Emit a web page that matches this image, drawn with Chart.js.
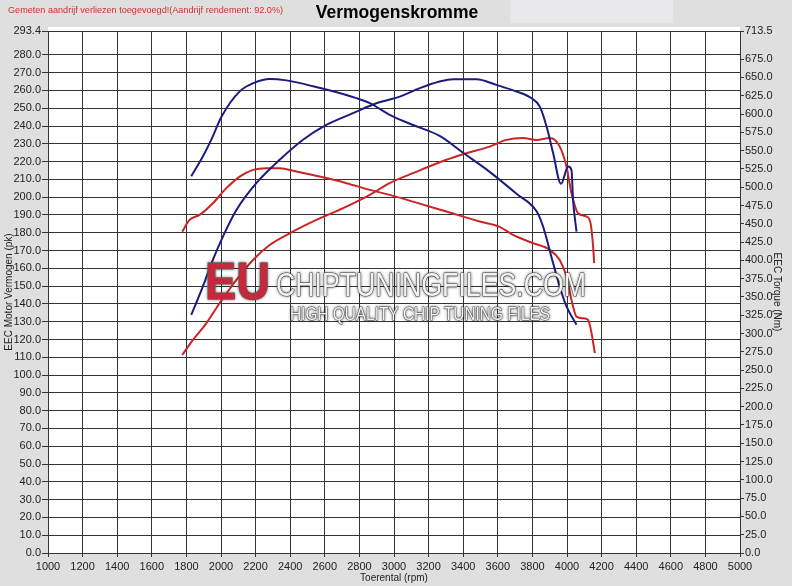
<!DOCTYPE html>
<html>
<head>
<meta charset="utf-8">
<script src="https://cdn.jsdelivr.net/npm/chart.js@4"></script>
<style>
  html, body { margin: 0; padding: 0; background: #dfdfdf; }
  #chart { display: block; }
</style>
</head>
<body>
<canvas id="chart" width="792" height="586"></canvas>
<script>
// values (rpm -> pk / Nm)
const tunedPowerRpm = [1828, 1895, 1953, 2011, 2089, 2204, 2339, 2474, 2609, 2763, 2898, 3033, 3149, 3264, 3341, 3477, 3592, 3708, 3795, 3843, 3882, 3920, 3965, 4007, 4026, 4035, 4055];
const tunedPower = [133.8, 149.7, 164.7, 177.8, 192.8, 207.9, 221.0, 232.3, 240.6, 247.2, 252.8, 256.5, 261.3, 265.0, 266.3, 266.3, 263.1, 259.4, 255.6, 250.9, 239.7, 224.7, 207.5, 217.2, 215.3, 198.5, 180.6];

const tunedTorqueRpm = [1828, 1895, 1944, 2002, 2108, 2194, 2281, 2378, 2532, 2725, 2860, 2975, 3110, 3264, 3399, 3553, 3708, 3824, 3862, 3920, 3958, 3997, 4055];
const tunedTorque = [515, 542, 565, 596, 631, 643, 648, 646, 638, 626, 615, 599, 585, 570, 547, 521, 491, 467, 446, 396, 364, 337, 312];

const stockPowerRpm = [1776, 1838, 1915, 1992, 2089, 2185, 2281, 2397, 2551, 2725, 2860, 2975, 3110, 3303, 3419, 3553, 3650, 3746, 3824, 3901, 3958, 3997, 4026, 4064, 4113, 4136, 4151, 4157];
const stockPower = [111.3, 119.8, 129.1, 140.4, 153.5, 164.7, 173.1, 179.7, 187.2, 194.7, 201.3, 207.9, 213.5, 221.0, 224.7, 228.4, 232.2, 233.2, 232.2, 233.2, 228.4, 217.2, 202.2, 191.0, 189.1, 185.4, 172.2, 162.9];

const stockTorqueRpm = [1776, 1818, 1876, 1953, 2031, 2108, 2185, 2262, 2339, 2436, 2570, 2725, 2860, 2975, 3110, 3303, 3496, 3611, 3688, 3804, 3901, 3958, 3997, 4026, 4055, 4093, 4122, 4142, 4161];
const stockTorque = [439.3, 455.3, 462.1, 478.1, 498.7, 514.5, 523.7, 526.0, 526.0, 521.4, 514.5, 505.5, 496.3, 489.5, 480.3, 466.7, 453.0, 445.8, 434.8, 423.5, 414.3, 400.4, 377.8, 345.9, 323.1, 320.9, 318.6, 300.4, 273.1];

const powerTicks = [0, 10, 20, 30, 40, 50, 60, 70, 80, 90, 100, 110, 120, 130, 140, 150, 160, 170, 180, 190, 200, 210, 220, 230, 240, 250, 260, 270, 280, 293.4];
const torqueTicks = [0, 25, 50, 75, 100, 125, 150, 175, 200, 225, 250, 275, 300, 325, 350, 375, 400, 425, 450, 475, 500, 525, 550, 575, 600, 625, 650, 675, 713.5];

const navy = "#1c1c80";
const red = "#cc2424";
const gridColor = "#333333";
const labelFont = { family: "Liberation Sans", size: 11 };
const titleFont = { family: "Liberation Sans", size: 10 };

function pairs(xs, ys) {
  return xs.map((x, i) => ({ x: x, y: ys[i] }));
}

// grey sheet, lighter title box, white plot area
const backdrop = {
  id: "backdrop",
  beforeDraw(chart) {
    const { ctx, chartArea } = chart;
    ctx.save();
    ctx.fillStyle = "#dfdfdf";
    ctx.fillRect(0, 0, chart.width, chart.height);
    ctx.fillStyle = "#e8e8ea";
    ctx.fillRect(510, 0, 163, 23);
    ctx.fillStyle = "#ffffff";
    ctx.fillRect(chartArea.left, chartArea.top - 4, chartArea.right - chartArea.left, chartArea.bottom - chartArea.top + 4);
    ctx.restore();
  }
};

function fitText(ctx, text, x, y, width, font) {
  ctx.font = font;
  const w = ctx.measureText(text).width;
  ctx.save();
  ctx.translate(x, y);
  ctx.scale(width / w, 1);
  ctx.strokeText(text, 0, 0);
  ctx.fillText(text, 0, 0);
  ctx.restore();
}

// header texts and the watermark
const overlay = {
  id: "overlay",
  afterDatasetsDraw(chart) {
    const ctx = chart.ctx;
    ctx.save();
    ctx.textBaseline = "alphabetic";

    // watermark
    ctx.shadowColor = "rgba(0,0,0,0.45)";
    ctx.shadowBlur = 3;
    ctx.lineJoin = "round";
    ctx.fillStyle = "#c8283c";
    ctx.strokeStyle = "#7a7a7a";
    ctx.lineWidth = 1.5;
    fitText(ctx, "EU", 205, 299, 65, "bold 52px Liberation Sans");
    ctx.fillStyle = "#f2f2f2";
    ctx.strokeStyle = "#555555";
    ctx.lineWidth = 1.2;
    fitText(ctx, "CHIPTUNINGFILES.COM", 276, 296, 310, "33px Liberation Sans");
    ctx.lineWidth = 1;
    fitText(ctx, "HIGH QUALITY CHIP TUNING FILES", 290, 320, 260, "18px Liberation Sans");
    ctx.restore();

    ctx.save();
    ctx.fillStyle = "#d03030";
    ctx.font = "9.1px Liberation Sans";
    ctx.textAlign = "left";
    ctx.fillText("Gemeten aandrijf verliezen toegevoegd!(Aandrijf rendement: 92.0%)", 8, 13);
    ctx.fillStyle = "#000000";
    ctx.font = "bold 17.5px Liberation Sans";
    ctx.textAlign = "center";
    ctx.fillText("Vermogenskromme", 397, 18);
    ctx.restore();
  }
};

new Chart(document.getElementById("chart"), {
  type: "line",
  data: {
    datasets: [
      { label: "Vermogen getuned", data: pairs(tunedPowerRpm, tunedPower), borderColor: navy, yAxisID: "y" },
      { label: "Koppel getuned", data: pairs(tunedTorqueRpm, tunedTorque), borderColor: navy, yAxisID: "y2" },
      { label: "Vermogen origineel", data: pairs(stockPowerRpm, stockPower), borderColor: red, yAxisID: "y" },
      { label: "Koppel origineel", data: pairs(stockTorqueRpm, stockTorque), borderColor: red, yAxisID: "y2" }
    ]
  },
  options: {
    responsive: false,
    animation: false,
    devicePixelRatio: 1,
    layout: { padding: { top: 31, left: 0, right: 0, bottom: 0 } },
    elements: {
      point: { radius: 0 },
      line: { borderWidth: 2, fill: false, cubicInterpolationMode: "monotone" }
    },
    plugins: {
      legend: { display: false },
      tooltip: { enabled: false }
    },
    scales: {
      x: {
        type: "linear",
        min: 1000,
        max: 5000,
        afterFit(scale) { scale.height = 33; },
        ticks: { stepSize: 200, autoSkip: false, maxRotation: 0, padding: 3, color: "#222", font: labelFont, callback: (v) => String(v) },
        grid: { color: gridColor, lineWidth: 1, tickLength: 4 },
        border: { color: gridColor },
        title: { display: true, text: "Toerental (rpm)", color: "#222", font: titleFont, padding: { top: 0, bottom: 2 } }
      },
      y: {
        position: "left",
        min: 0,
        max: 293.4,
        afterFit(scale) { scale.width = 48; },
        afterBuildTicks(scale) { scale.ticks = powerTicks.map((v) => ({ value: v })); },
        ticks: { autoSkip: false, padding: 1, color: "#222", font: labelFont, callback: (v) => Number(v).toFixed(1) },
        grid: { color: gridColor, lineWidth: 1, tickLength: 6 },
        border: { color: gridColor },
        title: { display: true, text: "EEC Motor Vermogen (pk)", color: "#222", font: titleFont, padding: { top: 3, bottom: 0 } }
      },
      y2: {
        position: "right",
        min: 0,
        max: 713.5,
        afterFit(scale) { scale.width = 52; },
        afterBuildTicks(scale) { scale.ticks = torqueTicks.map((v) => ({ value: v })); },
        ticks: { autoSkip: false, padding: 1, color: "#222", font: labelFont, callback: (v) => Number(v).toFixed(1) },
        grid: { drawOnChartArea: false, color: gridColor, lineWidth: 1, tickLength: 4 },
        border: { color: gridColor },
        title: { display: true, text: "EEC Torque (Nm)", color: "#222", font: titleFont, padding: { top: 9, bottom: 0 } }
      }
    }
  },
  plugins: [backdrop, overlay]
});
</script>
</body>
</html>
